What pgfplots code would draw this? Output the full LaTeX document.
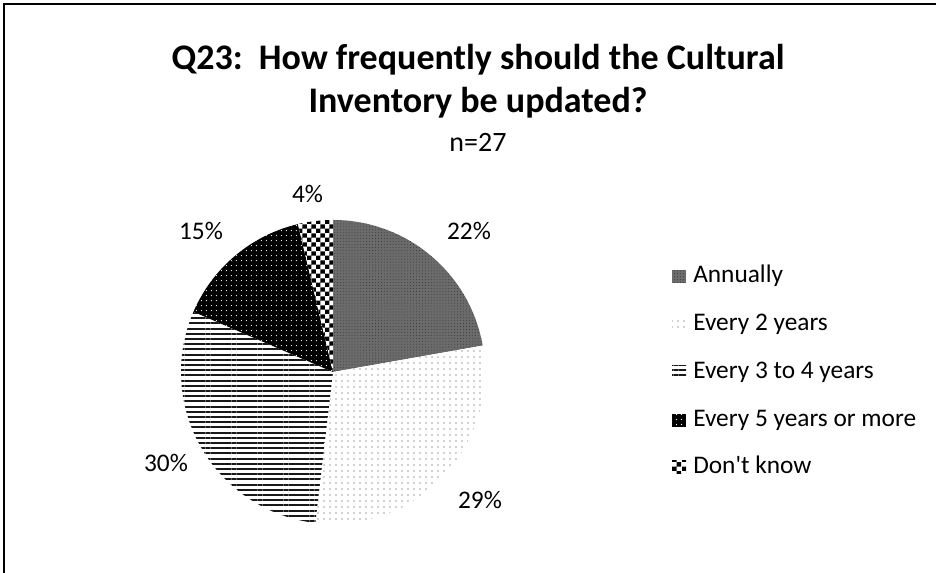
\documentclass[border=0pt]{standalone}
\usepackage{pgfplots}
\pgfplotsset{compat=1.18}
\usepackage{pgfplotstable}
\usetikzlibrary{patterns,patterns.meta}
\usepackage{fontspec}
\setmainfont{Carlito}

\pgfdeclarepatternformonly{bigchecker}{\pgfqpoint{0pt}{0pt}}{\pgfqpoint{7pt}{7pt}}{\pgfqpoint{7pt}{7pt}}{%
  \pgfpathrectangle{\pgfqpoint{0pt}{0pt}}{\pgfqpoint{3.5pt}{3.5pt}}%
  \pgfpathrectangle{\pgfqpoint{3.5pt}{3.5pt}}{\pgfqpoint{3.5pt}{3.5pt}}%
  \pgfusepath{fill}}

\pgfplotstableread[col sep=comma]{
category,count,pct
Annually,6,22
Every 2 years,8,29
Every 3 to 4 years,8,30
Every 5 years or more,4,15
Dont know,1,4
}\piedata

\tikzset{
  sA/.style={preaction={fill=black!58},pattern={Dots[distance=2.2pt,radius=0.35pt]},pattern color=black!80},
  sB/.style={preaction={fill=white},pattern={Dots[distance=4.5pt,radius=0.45pt]},pattern color=black!75},
  sC/.style={preaction={fill=white},pattern={Lines[angle=0,distance=3.9pt,line width=1.5pt]},pattern color=black!90},
  sD/.style={preaction={fill=black},pattern={Dots[distance=4pt,radius=0.5pt]},pattern color=white},
  sE/.style={preaction={fill=white},pattern=bigchecker,pattern color=black},
}

\begin{document}
\begin{tikzpicture}
\pgfplotstablegetelem{0}{count}\of\piedata\edef\cA{\pgfplotsretval}
\pgfplotstablegetelem{1}{count}\of\piedata\edef\cB{\pgfplotsretval}
\pgfplotstablegetelem{2}{count}\of\piedata\edef\cC{\pgfplotsretval}
\pgfplotstablegetelem{3}{count}\of\piedata\edef\cD{\pgfplotsretval}
\pgfplotstablegetelem{4}{count}\of\piedata\edef\cE{\pgfplotsretval}
\pgfplotstablegetelem{0}{pct}\of\piedata\edef\pA{\pgfplotsretval}
\pgfplotstablegetelem{1}{pct}\of\piedata\edef\pB{\pgfplotsretval}
\pgfplotstablegetelem{2}{pct}\of\piedata\edef\pC{\pgfplotsretval}
\pgfplotstablegetelem{3}{pct}\of\piedata\edef\pD{\pgfplotsretval}
\pgfplotstablegetelem{4}{pct}\of\piedata\edef\pE{\pgfplotsretval}
\pgfmathsetmacro\tot{\cA+\cB+\cC+\cD+\cE}
\pgfmathsetmacro\aA{90}
\pgfmathsetmacro\aB{\aA-360*\cA/\tot}
\pgfmathsetmacro\aC{\aB-360*\cB/\tot}
\pgfmathsetmacro\aD{\aC-360*\cC/\tot}
\pgfmathsetmacro\aE{\aD-360*\cD/\tot}
\pgfmathsetmacro\aF{\aE-360*\cE/\tot}
\begin{axis}[
  x=0.75pt, y=0.75pt,
  xmin=0, xmax=936, ymin=0, ymax=573,
  hide axis, clip=false,
  anchor=origin, at={(0,0)},
]
% frame
\draw[line width=1.6pt] (axis cs:4,0) -- (axis cs:4,569) -- (axis cs:936,569);
% slices
\path[sA] (axis cs:333,201) -- ++(\aA:114pt) arc[start angle=\aA, end angle=\aB, radius=114pt] -- cycle;
\path[sB] (axis cs:333,201) -- ++(\aB:114pt) arc[start angle=\aB, end angle=\aC, radius=114pt] -- cycle;
\path[sC] (axis cs:333,201) -- ++(\aC:114pt) arc[start angle=\aC, end angle=\aD, radius=114pt] -- cycle;
\path[sD] (axis cs:333,201) -- ++(\aD:114pt) arc[start angle=\aD, end angle=\aE, radius=114pt] -- cycle;
\path[sE] (axis cs:333,201) -- ++(\aE:114pt) arc[start angle=\aE, end angle=\aF, radius=114pt] -- cycle;
% data labels
\node[anchor=base, font=\fontsize{19}{22}\selectfont] at (axis cs:469,333) {\pA\%};
\node[anchor=base, font=\fontsize{19}{22}\selectfont] at (axis cs:480,64) {\pB\%};
\node[anchor=base, font=\fontsize{19}{22}\selectfont] at (axis cs:166,101) {\pC\%};
\node[anchor=base, font=\fontsize{19}{22}\selectfont] at (axis cs:201,333) {\pD\%};
\node[anchor=base, font=\fontsize{19}{22}\selectfont] at (axis cs:307.5,370) {\pE\%};
% title
\node[anchor=base, font=\bfseries\fontsize{27}{32}\selectfont] at (axis cs:478,503) {Q23:\ \ How frequently should the Cultural};
\node[anchor=base, font=\bfseries\fontsize{27}{32}\selectfont] at (axis cs:478,460) {Inventory be updated?};
\node[anchor=base, font=\fontsize{21}{25}\selectfont] at (axis cs:478,421) {n=27};
% legend
\path[sA] (axis cs:672,290) rectangle (axis cs:686,303);
\path[sB] (axis cs:672,242) rectangle (axis cs:686,255);
\path[sC] (axis cs:672,194) rectangle (axis cs:686,207);
\path[sD] (axis cs:672,146) rectangle (axis cs:686,159);
\path[sE] (axis cs:672,99) rectangle (axis cs:686,112);
\node[anchor=base west, inner sep=0pt, font=\fontsize{19}{22}\selectfont] at (axis cs:693,290) {Annually};
\node[anchor=base west, inner sep=0pt, font=\fontsize{19}{22}\selectfont] at (axis cs:693,242) {Every 2 years};
\node[anchor=base west, inner sep=0pt, font=\fontsize{19}{22}\selectfont] at (axis cs:693,194) {Every 3 to 4 years};
\node[anchor=base west, inner sep=0pt, font=\fontsize{19}{22}\selectfont] at (axis cs:693,146) {Every 5 years or more};
\node[anchor=base west, inner sep=0pt, font=\fontsize{19}{22}\selectfont] at (axis cs:693,99) {Don\textquotesingle t know};
\end{axis}
\pgfresetboundingbox
\path (0,0) rectangle (702pt,429.75pt);
\end{tikzpicture}
\end{document}
